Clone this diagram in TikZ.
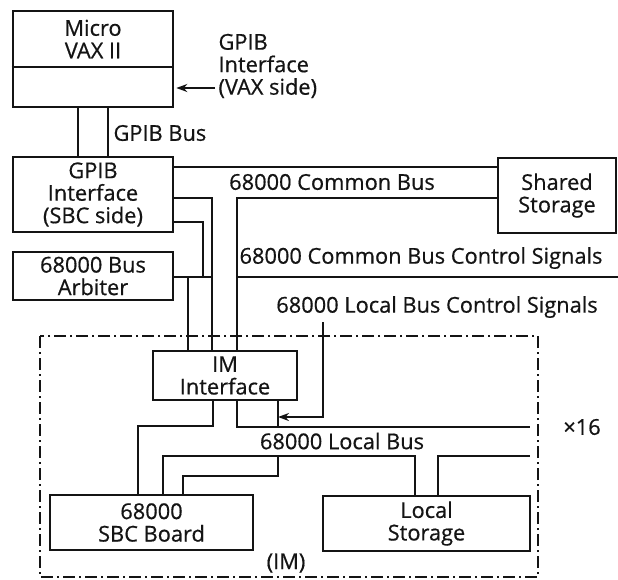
\documentclass[tikz,border=0pt]{standalone}
\usepackage{fontspec}
\setmainfont{Open Sans}[FakeBold=0.6]
\usepackage{xcolor}
\definecolor{ink}{RGB}{20,20,20}
\usepackage{tikz}
\usetikzlibrary{
    arrows.meta,
    positioning,
    calc
}

\begin{document}
\begin{tikzpicture}[
        x=1pt, y=-1pt,
        every node/.style={font=\fontsize{21.8}{22.5}\selectfont, text=ink, align=center},
        box/.style={rectangle, draw=ink, line width=2.6pt, align=center, inner sep=0pt},
        bus/.style={draw=ink, line width=2.2pt},
        sig/.style={-{Stealth[length=11pt,width=8pt]}, draw=ink, line width=2.2pt},
        frame/.style={draw=ink, line width=2.4pt, dash pattern=on 12pt off 4pt on 2pt off 4pt}
    ]
        \useasboundingbox (0,0) rectangle (618,579);

        % boxes
        \node[box, minimum width=160pt, minimum height=96pt] (vax) at (93,59) {};
        \node (vaxlbl) at (93,39) {Micro\\VAX II};
        \node[box, minimum width=160pt, minimum height=75pt] (gpib) at (93,194.5) {GPIB\\Interface\\(SBC side)};
        \node[box, minimum width=160pt, minimum height=48pt] (arb) at (93,276) {68000 Bus\\Arbiter};
        \node[box, minimum width=118pt, minimum height=75pt] (shared) at (557,195.5) {Shared\\Storage};
        \node[box, minimum width=144pt, minimum height=49pt] (im) at (225,375.5) {IM\\Interface};
        \node[box, minimum width=203pt, minimum height=55pt] (sbc) at (151.5,522.5) {68000\\SBC Board};
        \node[box, minimum width=207pt, minimum height=55pt] (lstor) at (426.5,523.5) {Local\\Storage};
        \draw[bus] (vax.west |- 0,67) -- (vax.east |- 0,67);

        % labels
        \node[anchor=west, align=left] (vaxside) at (215,66) {GPIB\\Interface\\(VAX side)};
        \node[anchor=west] (gpibbus) at (110,133) {GPIB Bus};
        \node (cbus) at (332,182) {68000 Common Bus};
        \node (cbusctl) at (421,258) {68000 Common Bus Control Signals};
        \node (lbusctl) at (437,307) {68000 Local Bus Control Signals};
        \node (lbus) at (342,441) {68000 Local Bus};
        \node (times) at (582,427) {×16};
        \node (imlbl) at (286,563) {(IM)};
        \coordinate (ctlend) at (618,277);
        \coordinate (lctltop) at (323,322);

        \draw[frame] (40,336) rectangle (538,577);

        % GPIB bus
        \draw[bus] (vax.south -| 78,0) -- (gpib.north -| 78,0);
        \draw[bus] (vax.south -| 108,0) -- (gpib.north -| 108,0);
        \draw[sig] (vaxside.west |- 0,88) -- ([xshift=2pt]vax.east |- 0,88);

        % common bus
        \draw[bus] (gpib.east |- 0,167) -- (shared.west |- 0,167);
        \draw[bus] (im.north -| 237,0) -- (237,198) -- (shared.west |- 0,198);
        \draw[bus] (237,277) -- (ctlend);
        \draw[bus] (gpib.east |- 0,198) -- (212,198) -- (im.north -| 212,0);
        \draw[bus] (gpib.east |- 0,222) -- (203,222) -- (203,277);
        \draw[bus] (arb.east |- 0,277) -- (212,277);
        \draw[bus] (188,277) -- (im.north -| 188,0);

        % local bus
        \draw[sig] (lctltop) -- (323,417) -- (278,417);
        \draw[bus] (im.south -| 237,0) -- (237,427) -- (530,427);
        \draw[bus] (im.south -| 278,0) -- (278,427);
        \draw[bus] (im.south -| 213,0) -- (213,426) -- (138,426) -- (sbc.north -| 138,0);
        \draw[bus] (sbc.north -| 163,0) -- (163,456) -- (415,456) -- (lstor.north -| 415,0);
        \draw[bus] (sbc.north -| 183,0) -- (183,476) -- (278,476) -- (278,456);
        \draw[bus] (lstor.north -| 438,0) -- (438,456) -- (530,456);
    \end{tikzpicture}
\end{document}
